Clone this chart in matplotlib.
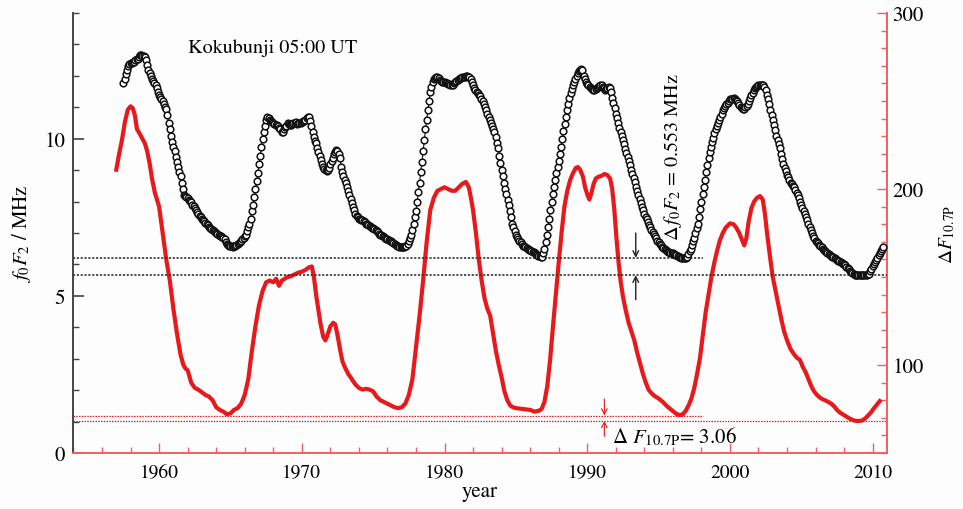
import numpy as np
import matplotlib
matplotlib.use('Agg')
import matplotlib.pyplot as plt
from matplotlib.ticker import MultipleLocator

plt.rcParams['font.family'] = 'STIXGeneral'
plt.rcParams['mathtext.fontset'] = 'stix'

# Monthly f0F2 (MHz) at Kokubunji 05:00 UT, starting July 1957
fof2_start = 1957.5
fof2_monthly = [
    11.76, 11.9, 12.05, 12.2, 12.3, 12.38,                                      # 1957
    12.4, 12.42, 12.45, 12.44, 12.5, 12.55, 12.55, 12.6, 12.65, 12.66, 12.63, 12.62,  # 1958
    12.6, 12.5, 12.35, 12.2, 12.1, 12.0, 11.9, 11.85, 11.78, 11.7, 11.6, 11.5,  # 1959
    11.4, 11.33, 11.26, 11.2, 11.1, 11.0, 10.95, 10.75, 10.5, 10.3, 10.1, 9.9,  # 1960
    9.75, 9.6, 9.42, 9.25, 9.1, 8.95, 8.8, 8.6, 8.4, 8.22, 8.18, 8.15,          # 1961
    8.1, 8.06, 8.02, 7.98, 7.9, 7.85, 7.8, 7.74, 7.68, 7.6, 7.55, 7.5,          # 1962
    7.45, 7.4, 7.37, 7.33, 7.3, 7.25, 7.2, 7.16, 7.12, 7.1, 7.06, 7.03,         # 1963
    7.0, 6.97, 6.95, 6.92, 6.9, 6.88, 6.85, 6.8, 6.72, 6.66, 6.62, 6.6,         # 1964
    6.6, 6.58, 6.57, 6.6, 6.58, 6.62, 6.65, 6.67, 6.7, 6.75, 6.8, 6.85,         # 1965
    6.9, 6.95, 7.05, 7.2, 7.3, 7.45, 7.7, 7.9, 8.15, 8.4, 8.65, 8.9,            # 1966
    9.2, 9.45, 9.75, 10.0, 10.2, 10.4, 10.6, 10.68, 10.65, 10.6, 10.55, 10.52,  # 1967
    10.5, 10.48, 10.45, 10.45, 10.4, 10.35, 10.3, 10.22, 10.2, 10.3, 10.38, 10.42,  # 1968
    10.5, 10.48, 10.45, 10.44, 10.47, 10.5, 10.5, 10.52, 10.48, 10.5, 10.51, 10.5,  # 1969
    10.52, 10.55, 10.58, 10.6, 10.65, 10.7, 10.68, 10.55, 10.4, 10.2, 10.05, 9.92,  # 1970
    9.85, 9.7, 9.58, 9.45, 9.32, 9.2, 9.1, 9.05, 9.0, 8.98, 9.0, 9.08,          # 1971
    9.2, 9.3, 9.4, 9.5, 9.58, 9.63, 9.6, 9.5, 9.4, 9.1, 8.95, 8.8,              # 1972
    8.7, 8.58, 8.46, 8.35, 8.2, 8.08, 7.95, 7.83, 7.72, 7.6, 7.54, 7.5,         # 1973
    7.45, 7.43, 7.42, 7.4, 7.38, 7.34, 7.3, 7.28, 7.25, 7.22, 7.2, 7.17,        # 1974
    7.15, 7.12, 7.1, 7.06, 7.02, 6.98, 6.95, 6.93, 6.9, 6.88, 6.85, 6.82,       # 1975
    6.8, 6.78, 6.76, 6.73, 6.7, 6.68, 6.65, 6.63, 6.6, 6.58, 6.57, 6.56,        # 1976
    6.55, 6.55, 6.57, 6.6, 6.6, 6.65, 6.75, 6.83, 6.95, 7.1, 7.3, 7.5,          # 1977
    7.7, 8.0, 8.3, 8.6, 8.95, 9.25, 9.6, 9.95, 10.3, 10.6, 10.9, 11.2,          # 1978
    11.5, 11.65, 11.8, 11.9, 11.93, 11.95, 11.95, 11.92, 11.88, 11.85, 11.82, 11.8,  # 1979
    11.8, 11.78, 11.76, 11.75, 11.73, 11.71, 11.7, 11.72, 11.76, 11.8, 11.84, 11.87,  # 1980
    11.9, 11.92, 11.93, 11.95, 11.97, 11.98, 12.0, 12.0, 11.98, 11.95, 11.9, 11.82,  # 1981
    11.7, 11.63, 11.56, 11.5, 11.45, 11.4, 11.35, 11.28, 11.2, 11.1, 11.0, 10.9,  # 1982
    10.8, 10.7, 10.6, 10.5, 10.4, 10.3, 10.2, 10.05, 9.88, 9.7, 9.45, 9.22,     # 1983
    9.0, 8.8, 8.6, 8.4, 8.23, 8.06, 7.9, 7.7, 7.5, 7.3, 7.18, 7.06,             # 1984
    6.95, 6.88, 6.82, 6.76, 6.7, 6.65, 6.6, 6.58, 6.55, 6.52, 6.5, 6.47,        # 1985
    6.45, 6.43, 6.4, 6.38, 6.35, 6.33, 6.3, 6.28, 6.26, 6.25, 6.25, 6.35,       # 1986
    6.5, 6.72, 6.95, 7.2, 7.45, 7.72, 8.0, 8.25, 8.48, 8.7, 8.9, 9.1,           # 1987
    9.3, 9.52, 9.75, 10.0, 10.25, 10.48, 10.7, 10.9, 11.1, 11.3, 11.45, 11.58,  # 1988
    11.7, 11.8, 11.9, 12.0, 12.08, 12.15, 12.2, 12.22, 12.2, 12.0, 11.9, 11.82,  # 1989
    11.75, 11.7, 11.65, 11.6, 11.58, 11.56, 11.55, 11.58, 11.6, 11.65, 11.68, 11.7,  # 1990
    11.7, 11.65, 11.6, 11.55, 11.58, 11.62, 11.65, 11.6, 11.5, 11.3, 11.15, 10.98,  # 1991
    10.8, 10.65, 10.5, 10.35, 10.22, 10.08, 9.95, 9.82, 9.68, 9.55, 9.42, 9.28,  # 1992
    9.15, 9.02, 8.88, 8.75, 8.62, 8.48, 8.35, 8.22, 8.08, 7.95, 7.83, 7.72,     # 1993
    7.6, 7.52, 7.43, 7.35, 7.27, 7.18, 7.1, 7.03, 6.96, 6.9, 6.83, 6.76,        # 1994
    6.7, 6.65, 6.61, 6.57, 6.53, 6.49, 6.45, 6.43, 6.41, 6.39, 6.37, 6.36,      # 1995
    6.35, 6.33, 6.31, 6.29, 6.27, 6.25, 6.23, 6.22, 6.21, 6.2, 6.2, 6.22,       # 1996
    6.25, 6.33, 6.42, 6.5, 6.62, 6.74, 6.85, 7.0, 7.15, 7.3, 7.52, 7.75,        # 1997
    8.0, 8.23, 8.47, 8.7, 8.93, 9.17, 9.4, 9.57, 9.73, 9.9, 10.03, 10.17,       # 1998
    10.3, 10.4, 10.5, 10.6, 10.7, 10.8, 10.9, 10.97, 11.03, 11.1, 11.15, 11.2,  # 1999
    11.25, 11.27, 11.28, 11.3, 11.27, 11.23, 11.2, 11.13, 11.06, 11.0, 10.98, 10.96,  # 2000
    10.95, 11.0, 11.05, 11.1, 11.2, 11.3, 11.4, 11.47, 11.54, 11.6, 11.64, 11.67,  # 2001
    11.7, 11.71, 11.72, 11.72, 11.7, 11.65, 11.55, 11.4, 11.25, 11.1, 10.93, 10.77,  # 2002
    10.6, 10.43, 10.27, 10.1, 9.97, 9.83, 9.7, 9.53, 9.37, 9.2, 9.08, 8.97,     # 2003
    8.85, 8.77, 8.68, 8.6, 8.55, 8.5, 8.45, 8.37, 8.28, 8.2, 8.1, 8.0,          # 2004
    7.9, 7.8, 7.7, 7.6, 7.5, 7.4, 7.3, 7.2, 7.1, 7.0, 6.92, 6.83,               # 2005
    6.75, 6.71, 6.67, 6.63, 6.58, 6.54, 6.5, 6.47, 6.43, 6.4, 6.37, 6.33,       # 2006
    6.3, 6.28, 6.25, 6.23, 6.2, 6.18, 6.15, 6.12, 6.1, 6.07, 6.05, 6.02,        # 2007
    6.0, 5.97, 5.93, 5.9, 5.85, 5.8, 5.75, 5.72, 5.7, 5.67, 5.66, 5.65,         # 2008
    5.65, 5.65, 5.65, 5.66, 5.66, 5.66, 5.67, 5.67, 5.68, 5.7, 5.78, 5.86,      # 2009
    5.95, 6.02, 6.08, 6.15, 6.22, 6.29, 6.35, 6.42, 6.48, 6.55,                 # 2010
]

# F10.7P solar flux index
f107_years = [
    1957.0, 1957.2, 1957.4, 1957.6, 1957.8, 1958.0, 1958.15, 1958.3, 1958.45, 1958.6,
    1958.8, 1959.0, 1959.15, 1959.35, 1959.5, 1959.7, 1960.0, 1960.25, 1960.5, 1960.75,
    1961.0, 1961.25, 1961.5, 1961.7, 1961.85, 1962.0, 1962.25, 1962.5, 1962.75, 1963.0,
    1963.25, 1963.5, 1963.75, 1964.0, 1964.25, 1964.5, 1964.75, 1965.0, 1965.25, 1965.5,
    1965.75, 1966.0, 1966.25, 1966.5, 1966.75, 1967.0, 1967.25, 1967.5, 1967.75, 1968.0,
    1968.2, 1968.4, 1968.6, 1968.8, 1969.0, 1969.25, 1969.5, 1969.75, 1970.0, 1970.25,
    1970.5, 1970.7, 1970.85, 1971.0, 1971.15, 1971.3, 1971.5, 1971.65, 1971.8, 1972.0,
    1972.2, 1972.35, 1972.5, 1972.7, 1972.85, 1973.0, 1973.25, 1973.5, 1973.75, 1974.0,
    1974.25, 1974.5, 1974.75, 1975.0, 1975.25, 1975.5, 1975.75, 1976.0, 1976.25, 1976.5,
    1976.75, 1977.0, 1977.25, 1977.5, 1977.75, 1978.0, 1978.25, 1978.5, 1978.75, 1979.0,
    1979.25, 1979.5, 1979.75, 1980.0, 1980.25, 1980.5, 1980.75, 1981.0, 1981.25, 1981.5,
    1981.7, 1981.85, 1982.0, 1982.2, 1982.4, 1982.6, 1982.8, 1983.0, 1983.2, 1983.4,
    1983.6, 1983.8, 1984.0, 1984.2, 1984.4, 1984.6, 1984.8, 1985.0, 1985.5, 1986.0,
    1986.3, 1986.6, 1986.8, 1987.0, 1987.2, 1987.4, 1987.6, 1987.8, 1988.0, 1988.2,
    1988.4, 1988.6, 1988.8, 1989.0, 1989.2, 1989.35, 1989.5, 1989.7, 1989.85, 1990.0,
    1990.15, 1990.3, 1990.45, 1990.6, 1990.8, 1991.0, 1991.2, 1991.4, 1991.6, 1991.75,
    1991.9, 1992.05, 1992.2, 1992.35, 1992.5, 1992.7, 1992.9, 1993.1, 1993.3, 1993.5,
    1993.7, 1993.9, 1994.1, 1994.3, 1994.5, 1994.7, 1995.0, 1995.3, 1995.6, 1995.9,
    1996.2, 1996.45, 1996.7, 1996.9, 1997.1, 1997.3, 1997.5, 1997.7, 1997.9, 1998.1,
    1998.3, 1998.5, 1998.7, 1998.9, 1999.1, 1999.3, 1999.5, 1999.7, 2000.0, 2000.25,
    2000.45, 2000.65, 2000.85, 2001.0, 2001.15, 2001.3, 2001.5, 2001.7, 2001.9, 2002.1,
    2002.3, 2002.45, 2002.6, 2002.8, 2003.0, 2003.2, 2003.4, 2003.6, 2003.8, 2004.0,
    2004.25, 2004.5, 2004.7, 2004.9, 2005.1, 2005.3, 2005.5, 2005.7, 2005.9, 2006.1,
    2006.3, 2006.5, 2006.7, 2006.9, 2007.1, 2007.3, 2007.5, 2007.7, 2007.9, 2008.1,
    2008.4, 2008.7, 2008.9, 2009.1, 2009.3, 2009.5, 2009.7, 2009.9, 2010.1, 2010.3,
    2010.5,
]
f107_values = [
    211, 220, 228, 238, 245, 247, 246, 242, 234, 232,
    229, 226, 222, 214, 206, 198, 190, 175, 160, 148,
    132, 118, 106, 100, 98, 97, 90, 87, 86, 84.5,
    83, 82, 80, 76, 74.5, 73.5, 72, 72.5, 74.5, 75.5,
    78, 83, 92, 108, 122, 134, 142, 147, 148, 147,
    149, 145, 148, 149, 150, 150.5, 151.5, 152.5, 153, 154,
    155.5, 156, 150, 140, 132, 124, 116, 114, 117, 122,
    124, 123, 117, 108, 102, 99, 95, 92, 89, 87,
    86, 86.5, 86, 85, 82, 80, 79, 78, 77, 76,
    75.5, 76, 78, 83, 92, 110, 128, 148, 170, 188,
    195, 199, 200, 201, 200, 199, 199, 201, 203, 204,
    201, 195, 188, 175, 160, 148, 138, 132, 128, 118,
    108, 100, 93, 85, 80, 77, 76, 75.5, 75, 74.5,
    73.5, 74, 75, 79, 88, 103, 122, 140, 158, 175,
    190, 199, 205, 209, 212, 212.5, 211, 207, 201, 197,
    194, 198, 203, 206, 207, 207.5, 208.5, 208, 206, 200,
    188, 172, 158, 147, 139, 131, 124, 119, 114, 107,
    101, 95, 90, 86, 84, 82.5, 81, 79, 76.5, 74.5,
    72.5, 71.5, 72, 74, 77, 81, 87, 95, 104, 117,
    130, 140, 150, 158, 165, 171, 175, 178, 180.5, 180,
    178, 175, 171, 168, 172, 181, 189, 193, 195, 196,
    194, 186, 175, 162, 150, 142, 134, 126, 119, 114,
    109, 106, 104, 103, 99, 96, 92, 88, 85, 83,
    81.5, 80.5, 79.8, 79, 78, 76.5, 74.5, 73, 72, 71,
    69.5, 68.5, 68.2, 68.2, 68.6, 69.8, 71.5, 73.3, 75.5, 77.5,
    79.5,
]

# minimum levels of the two solar-minimum reference lines
fof2_levels = [6.21, 5.657]
f107_levels = [71.3, 68.24]

red = '#e8191b'
spine_red = '#f06060'

fof2_years = fof2_start + np.arange(len(fof2_monthly)) / 12.0

fig = plt.figure(figsize=(9.63, 5.10), dpi=100)
fig.patch.set_facecolor('#fdfdfe')
ax = fig.add_axes([0.0763, 0.1098, 0.8447, 0.8627])
ax2 = ax.twinx()

# red F10.7P curve on the right axis
ax2.plot(f107_years, f107_values, color=red, linewidth=3.0, solid_joinstyle='round')

# reference lines for F10.7P minima
ax2.plot([1954, 1998.1], [f107_levels[0]] * 2, color=red, linestyle=(0, (1.2, 1.0)), linewidth=0.9)
ax2.axhline(f107_levels[1], color=red, linestyle=(0, (1.2, 1.0)), linewidth=0.9)
ax2.annotate('', xy=(1991.2, f107_levels[0]), xytext=(1991.2, 80.7),
             arrowprops=dict(arrowstyle='->', color=red, lw=0.8, shrinkA=0, shrinkB=0))
ax2.annotate('', xy=(1991.2, f107_levels[1]), xytext=(1991.2, 59.5),
             arrowprops=dict(arrowstyle='->', color=red, lw=0.8, shrinkA=0, shrinkB=0))
ax2.text(1991.75, 59.7, r'$\Delta\ F_{10.7\mathrm{P}}$= 3.06', fontsize=15, va='center', ha='left')

# black f0F2 circles on the left axis
ax.plot(fof2_years, fof2_monthly, '-o', color='#111111', linewidth=0.8, markersize=4.8,
        markerfacecolor='white', markeredgewidth=1.1, zorder=3)

ax.plot([1954, 1998.1], [fof2_levels[0]] * 2, color='#333333', linestyle=(0, (1.3, 1.0)), linewidth=1.2)
ax.axhline(fof2_levels[1], color='#333333', linestyle=(0, (1.3, 1.0)), linewidth=1.2)
ax.annotate('', xy=(1993.4, fof2_levels[0]), xytext=(1993.4, 7.0),
            arrowprops=dict(arrowstyle='->', color='#222222', lw=1.0, shrinkA=0, shrinkB=0))
ax.annotate('', xy=(1993.4, fof2_levels[1]), xytext=(1993.4, 4.88),
            arrowprops=dict(arrowstyle='->', color='#222222', lw=1.0, shrinkA=0, shrinkB=0))
ax.text(1996.0, 9.45, r'$\Delta\,f_0F_2$ = 0.553 MHz', rotation=90, fontsize=14.5,
        va='center', ha='center')
ax.text(1962.0, 12.9, 'Kokubunji 05:00 UT', fontsize=14.5, va='center', ha='left')

# left axis on top so the circles cover the red curve
ax.set_zorder(ax2.get_zorder() + 1)
ax.patch.set_visible(False)

ax.set_xlim(1954, 2011)
ax.set_ylim(0, 14)
ax2.set_ylim(50, 300)

ax.xaxis.set_major_locator(MultipleLocator(10))
ax.xaxis.set_minor_locator(MultipleLocator(2))
ax.yaxis.set_major_locator(MultipleLocator(5))
ax.yaxis.set_minor_locator(MultipleLocator(1))
ax2.yaxis.set_major_locator(MultipleLocator(100))
ax2.yaxis.set_minor_locator(MultipleLocator(10))

for s in ['top', 'right']:
    ax.spines[s].set_visible(False)
for s in ['top', 'left', 'bottom']:
    ax2.spines[s].set_visible(False)
ax.spines['left'].set_color('#444444')
ax.spines['left'].set_linewidth(1.4)
ax.spines['bottom'].set_color(spine_red)
ax.spines['bottom'].set_linewidth(1.4)
ax2.spines['right'].set_color(spine_red)
ax2.spines['right'].set_linewidth(1.4)

ax.tick_params(axis='y', which='major', direction='in', length=8, width=1.2, color='#444444',
               labelsize=15, pad=6)
ax.tick_params(axis='y', which='minor', direction='in', length=4, width=1.0, color='#444444')
ax.tick_params(axis='x', which='major', direction='in', length=7, width=1.0, color=spine_red,
               labelsize=14, pad=8)
ax.tick_params(axis='x', which='minor', direction='in', length=4, width=1.0, color=spine_red)
ax2.tick_params(axis='y', which='major', direction='in', length=7, width=1.0, color=spine_red,
                labelsize=15, pad=4)
ax2.tick_params(axis='y', which='minor', direction='in', length=4, width=1.0, color=spine_red)

ax.set_xlabel('year', fontsize=15, labelpad=0)
ax.set_ylabel(r'$f_0F_2$ / MHz', fontsize=15, labelpad=8)
ax2.set_ylabel(r'$\Delta F_{10.7\mathrm{P}}$', fontsize=14, labelpad=10)

fig.savefig('out.png', dpi=100, facecolor=fig.get_facecolor())
